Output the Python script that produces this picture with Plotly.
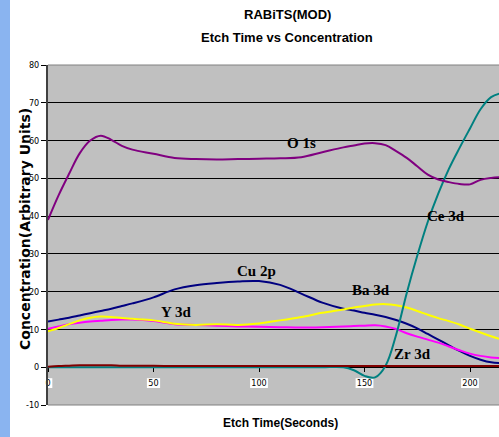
import plotly.graph_objects as go

# ---------------- data ----------------
time_s = [0, 5, 10, 15, 20, 25, 30, 35, 40, 50, 60, 70, 80, 90, 100, 110, 120, 130,
          140, 145, 150, 155, 160, 165, 170, 175, 180, 185, 190, 195, 200, 205, 210, 215]

o_1s = [39.0, 45.5, 51.2, 56.6, 60.0, 61.3, 60.2, 58.6, 57.6, 56.5, 55.4, 55.1, 55.0, 55.1,
        55.2, 55.3, 55.6, 56.9, 58.2, 58.7, 59.2, 59.3, 58.8, 57.2, 55.4, 53.2, 51.0, 49.7,
        49.0, 48.5, 48.4, 49.6, 50.1, 50.3]

cu_2p = [12.1, 12.6, 13.1, 13.7, 14.3, 14.9, 15.5, 16.2, 16.9, 18.5, 20.6, 21.7, 22.3, 22.7,
         22.8, 21.8, 19.5, 17.1, 15.5, 15.0, 14.4, 13.9, 13.3, 12.5, 11.5, 10.3, 8.8, 7.3,
         5.8, 4.3, 3.0, 2.0, 1.3, 1.1]

ba_3d = [9.5, 10.4, 11.4, 12.4, 13.1, 13.4, 13.3, 13.0, 12.8, 12.4, 11.5, 11.2, 11.4, 11.2,
         11.6, 12.4, 13.3, 14.4, 15.3, 15.8, 16.2, 16.6, 16.7, 16.4, 15.8, 14.9, 13.9, 13.0,
         12.2, 11.3, 10.2, 9.2, 8.2, 7.3]

y_3d = [10.2, 10.8, 11.4, 11.8, 12.1, 12.3, 12.5, 12.6, 12.6, 12.2, 11.4, 11.2, 11.0, 10.8,
        10.7, 10.6, 10.5, 10.6, 10.8, 10.9, 11.0, 11.1, 10.8, 10.1, 9.0, 8.1, 7.3, 6.5,
        5.5, 4.5, 3.6, 3.0, 2.6, 2.4]

zr_3d = [0.1, 0.3, 0.4, 0.5, 0.5, 0.5, 0.5, 0.4, 0.4, 0.4, 0.3, 0.3, 0.3, 0.3, 0.3, 0.3, 0.3,
         0.3, 0.3, 0.3, 0.3, 0.3, 0.3, 0.3, 0.3, 0.3, 0.3, 0.3, 0.3, 0.3, 0.3, 0.3, 0.3, 0.3]

ce_3d = [0, 0, 0, 0, 0, 0, 0, 0, 0, 0, 0, 0, 0, 0, 0, 0, 0, 0, 0, -0.8, -2.3, -2.7, 0.4,
         8.6, 19.6, 29.5, 38.5, 46.0, 52.5, 58.0, 63.2, 68.3, 71.5, 72.6]

x_ticks = [0, 50, 100, 150, 200]
y_ticks = [-10, 0, 10, 20, 30, 40, 50, 60, 70, 80]

series = [
    ("Cu 2p", cu_2p, "#000080"),
    ("Y 3d", y_3d, "#FF00FF"),
    ("Ba 3d", ba_3d, "#FFFF00"),
    ("Ce 3d", ce_3d, "#008080"),
    ("O 1s", o_1s, "#800080"),
    ("Zr 3d", zr_3d, "#800000"),
]

# label positions (data coords)
labels = [
    ("O 1s", 120, 59.4),
    ("Cu 2p", 98.6, 25.5),
    ("Y 3d", 60.8, 14.6),
    ("Ba 3d", 153.3, 20.5),
    ("Zr 3d", 172.7, 3.6),
    ("Ce 3d", 188.4, 39.9),
]

# ---------------- layout geometry ----------------
W, H = 499, 437
ML, MR, MT, MB = 48, 0, 65, 32
PW, PH = W - ML - MR, H - MT - MB
XMAX = PW / 2.11
YMIN, YMAX = -10, 80


def px_x(p):
    return (p - ML) / PW


def px_y(p):
    return (H - MB - p) / PH


fig = go.Figure()
for name, vals, col in series:
    fig.add_trace(go.Scatter(x=time_s, y=vals, name=name, mode="lines",
                             line=dict(color=col, width=2, shape="spline", smoothing=1.0)))

label_font = dict(family="Liberation Serif", size=15, color="black", weight="bold")
anns = []
for txt, lx, ly in labels:
    anns.append(dict(x=lx, y=ly, xref="x", yref="y", text=txt, showarrow=False,
                     font=label_font, xanchor="center", yanchor="middle"))

title_font = dict(family="Liberation Sans, Arial", size=13, color="black", weight="bold")
anns.append(dict(x=px_x(287), y=px_y(14), xref="paper", yref="paper", text="RABiTS(MOD)",
                 showarrow=False, font=title_font, xanchor="center", yanchor="middle"))
anns.append(dict(x=px_x(287), y=px_y(37.5), xref="paper", yref="paper",
                 text="Etch Time vs Concentration",
                 showarrow=False, font=title_font, xanchor="center", yanchor="middle"))
anns.append(dict(x=px_x(280), y=px_y(423), xref="paper", yref="paper",
                 text="Etch Time(Seconds)", showarrow=False,
                 font=dict(family="Liberation Sans, Arial", size=12, color="black", weight="bold"),
                 xanchor="center", yanchor="middle"))
anns.append(dict(x=px_x(25), y=px_y(229), xref="paper", yref="paper",
                 text="Concentration(Arbitrary Units)", showarrow=False, textangle=-90,
                 font=dict(family="DejaVu Sans", size=14, color="black", weight="bold"),
                 xanchor="center", yanchor="middle"))

shapes = []
# blue strip on the left edge
shapes.append(dict(type="rect", xref="paper", yref="paper", x0=px_x(0), x1=px_x(10),
                   y0=px_y(H), y1=px_y(0), fillcolor="#8AB4F0", line=dict(width=0),
                   layer="below"))
# white boxes behind the x tick labels
for t in x_ticks:
    wpx = 4 + 4.6 * len(str(t))
    shapes.append(dict(type="rect", xref="x", yref="y", x0=t - wpx / 2 / 2.11,
                       x1=t + wpx / 2 / 2.11, y0=-5.5, y1=-2.9, fillcolor="white",
                       line=dict(width=0), layer="below"))
# gray top and bottom borders of the plot area
shapes.append(dict(type="line", xref="paper", yref="paper", x0=0, x1=1, y0=1, y1=1,
                   line=dict(color="#808080", width=1), layer="above"))
shapes.append(dict(type="line", xref="paper", yref="paper", x0=0, x1=1, y0=0, y1=0,
                   line=dict(color="#808080", width=1), layer="above"))

tick_font = dict(family="DejaVu Sans Condensed, Liberation Sans", size=9, color="black")

fig.update_layout(
    width=W, height=H,
    margin=dict(l=ML, r=MR, t=MT, b=MB, pad=0),
    paper_bgcolor="white",
    plot_bgcolor="#C0C0C0",
    showlegend=False,
    annotations=anns,
    shapes=shapes,
    xaxis=dict(range=[0, XMAX], tickvals=x_ticks, ticktext=[str(v) for v in x_ticks],
               showgrid=False, zeroline=False, anchor="free",
               position=(0 - YMIN) / (YMAX - YMIN),
               showline=True, linecolor="black", linewidth=1, layer="below traces",
               ticks="outside", ticklen=4, tickcolor="black", tickfont=tick_font,
               ticklabelstandoff=3),
    yaxis=dict(range=[YMIN, YMAX], tickvals=y_ticks, ticktext=[str(v) for v in y_ticks],
               showgrid=True, gridcolor="black", gridwidth=1, zeroline=False,
               showline=True, linecolor="#404040", linewidth=2,
               ticks="outside", ticklen=5, tickcolor="black", tickfont=tick_font),
)

fig.write_html("out.html", config={"displayModeBar": False},
               post_script="document.body.style.margin='0px';document.body.style.overflow='hidden';")
